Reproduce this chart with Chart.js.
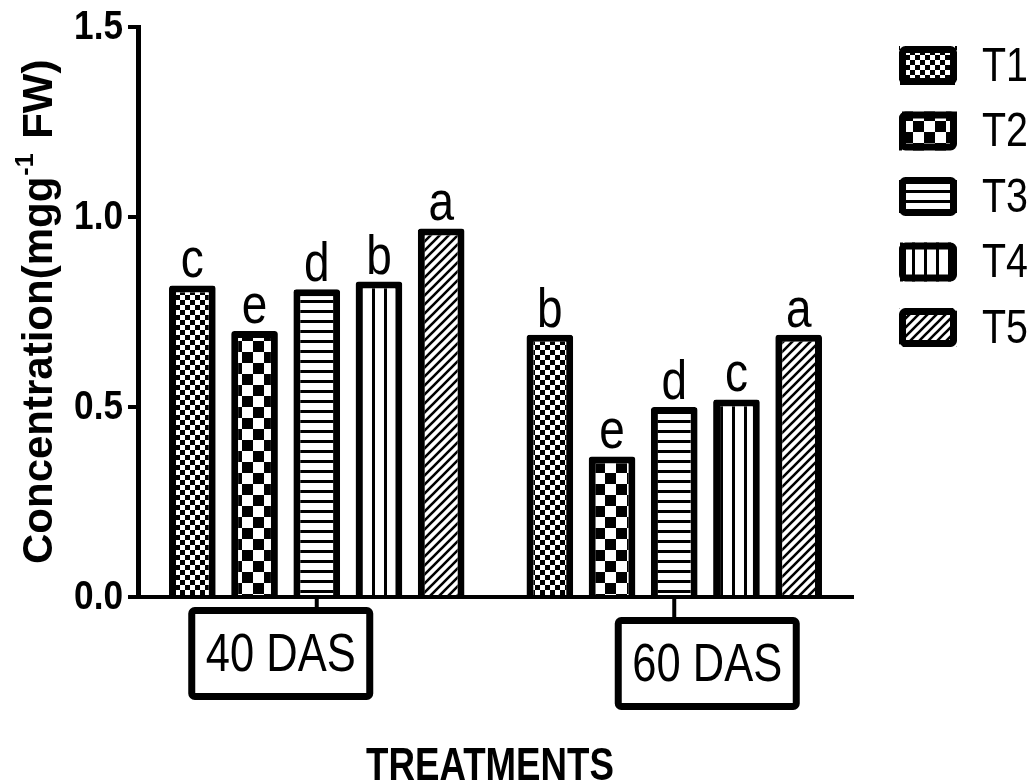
<!DOCTYPE html>
<html>
<head>
<meta charset="utf-8">
<title>Concentration by treatment</title>
<script src="https://cdn.jsdelivr.net/npm/chart.js@4.4.1/dist/chart.umd.min.js"></script>
<style>
  html, body { margin: 0; padding: 0; background: #fff; }
  #wrap { width: 1030px; height: 784px; }
</style>
</head>
<body>
<div id="wrap"><canvas id="chart" width="1030" height="784"></canvas></div>
<script>
// data
const categories = ["40 DAS", "60 DAS"];
const treatments = ["T1", "T2", "T3", "T4", "T5"];
const t1Values = [0.82, 0.69];
const t2Values = [0.70, 0.37];
const t3Values = [0.81, 0.50];
const t4Values = [0.83, 0.52];
const t5Values = [0.97, 0.69];
const t1Letters = ["c", "b"];
const t2Letters = ["e", "e"];
const t3Letters = ["d", "d"];
const t4Letters = ["b", "c"];
const t5Letters = ["a", "a"];
const yTicks = [0, 0.5, 1.0, 1.5];

const FONT = "'Liberation Sans', Arial, sans-serif";
const SQUEEZE = 0.82; // no narrow face installed, so squeeze the normal one

function narrowText(ctx, text, x, y, font, align, baseline, squeeze) {
  ctx.save();
  ctx.translate(x, y);
  ctx.scale(squeeze || SQUEEZE, 1);
  ctx.font = font;
  ctx.textAlign = align;
  ctx.textBaseline = baseline;
  ctx.fillStyle = "#000";
  ctx.fillText(text, 0, 0);
  ctx.restore();
}

// fill patterns, one per treatment
function makePattern(kind) {
  const c = document.createElement("canvas");
  const g = c.getContext("2d");
  const sq = (n) => {
    c.width = c.height = 2 * n;
    g.fillStyle = "#fff"; g.fillRect(0, 0, 2 * n, 2 * n);
    g.fillStyle = "#000"; g.fillRect(0, 0, n, n); g.fillRect(n, n, n, n);
  };
  if (kind === "fineCheck") sq(5);
  else if (kind === "bigCheck") sq(11);
  else if (kind === "hlines") {
    c.width = 4; c.height = 10;
    g.fillStyle = "#fff"; g.fillRect(0, 0, 4, 10);
    g.fillStyle = "#000"; g.fillRect(0, 0, 4, 3);
  } else if (kind === "vlines") {
    c.width = 12; c.height = 4;
    g.fillStyle = "#fff"; g.fillRect(0, 0, 12, 4);
    g.fillStyle = "#000"; g.fillRect(0, 0, 3, 4);
  } else if (kind === "diag") {
    c.width = c.height = 9;
    g.fillStyle = "#fff"; g.fillRect(0, 0, 9, 9);
    g.strokeStyle = "#000"; g.lineWidth = 2.6;
    g.beginPath();
    g.moveTo(-1, 10); g.lineTo(10, -1);
    g.moveTo(-1, 1); g.lineTo(1, -1);
    g.moveTo(8, 10); g.lineTo(10, 8);
    g.stroke();
  }
  return g.createPattern(c, "repeat");
}

const patterns = ["fineCheck", "bigCheck", "hlines", "vlines", "diag"].map(makePattern);
const seriesValues = [t1Values, t2Values, t3Values, t4Values, t5Values];
const seriesLetters = [t1Letters, t2Letters, t3Letters, t4Letters, t5Letters];

const datasets = treatments.map((name, i) => ({
  label: name,
  data: seriesValues[i],
  letters: seriesLetters[i],
  backgroundColor: patterns[i],
  borderColor: "#000",
  borderWidth: 7,
  borderRadius: 3,
  categoryPercentage: 0.87,
  barPercentage: 0.75,
}));

// letters above every bar
const letterPlugin = {
  id: "letters",
  afterDatasetsDraw(chart) {
    const ctx = chart.ctx;
    chart.data.datasets.forEach((ds, i) => {
      chart.getDatasetMeta(i).data.forEach((bar, j) => {
        narrowText(ctx, ds.letters[j], bar.x, bar.y - 8, "56px " + FONT, "center", "alphabetic");
      });
    });
  },
};

// tick labels, boxed category labels, axis titles and the legend
const decorPlugin = {
  id: "decor",
  afterDraw(chart) {
    const ctx = chart.ctx;
    const xs = chart.scales.x;
    const ys = chart.scales.y;
    const area = chart.chartArea;
    ctx.save();

    // y tick labels
    yTicks.forEach((v) => {
      narrowText(ctx, v.toFixed(1), 123, ys.getPixelForValue(v) + 1, "bold 40px " + FONT, "right", "middle", 0.88);
    });

    // category labels in frames
    const shift = [-36, 33];
    const drop = [10, 20];
    categories.forEach((label, i) => {
      const tx = xs.getPixelForValue(i);
      const cx = tx + shift[i];
      const top = area.bottom + drop[i];
      const w = 185, h = 93;
      ctx.strokeStyle = "#000";
      ctx.lineWidth = 4;
      ctx.beginPath();
      ctx.moveTo(tx, area.bottom);
      ctx.lineTo(tx, top);
      ctx.stroke();
      ctx.lineWidth = 7;
      ctx.beginPath();
      ctx.roundRect(cx - w / 2 + 3.5, top + 3.5, w - 7, h - 7, 3);
      ctx.stroke();
      narrowText(ctx, label, cx, top + h / 2 + 3, "53px " + FONT, "center", "middle");
    });

    // x title
    narrowText(ctx, "TREATMENTS", 490, 780, "bold 47px " + FONT, "center", "alphabetic", 0.78);

    // y title with superscript
    ctx.save();
    ctx.translate(52, 564);
    ctx.rotate(-Math.PI / 2);
    ctx.fillStyle = "#000";
    ctx.textAlign = "left";
    ctx.textBaseline = "alphabetic";
    let x = 0;
    const main = "bold 42px " + FONT;
    const sup = "bold 25px " + FONT;
    ctx.font = main;
    ctx.fillText("Concentration(mgg", x, 0);
    x += ctx.measureText("Concentration(mgg").width;
    ctx.font = sup;
    ctx.fillText("-1", x + 1, -19);
    x += ctx.measureText("-1").width + 4;
    ctx.font = main;
    ctx.fillText(" FW)", x, 0);
    ctx.restore();

    // legend
    chart.data.datasets.forEach((ds, i) => {
      const bx = 899, by = 46 + 65.5 * i, bw = 58, bh = 39;
      ctx.fillStyle = ds.backgroundColor;
      ctx.fillRect(bx, by, bw, bh);
      ctx.strokeStyle = "#000";
      ctx.lineWidth = 7;
      ctx.beginPath();
      ctx.roundRect(bx + 3.5, by + 3.5, bw - 7, bh - 7, 3);
      ctx.stroke();
      narrowText(ctx, ds.label, 982, by + bh / 2 + 2, "48px " + FONT, "left", "middle");
    });

    ctx.restore();
  },
};

new Chart(document.getElementById("chart"), {
  type: "bar",
  data: { labels: categories, datasets: datasets },
  plugins: [letterPlugin, decorPlugin],
  options: {
    responsive: false,
    animation: false,
    devicePixelRatio: 1,
    layout: { padding: { top: 27, right: 177, left: 0, bottom: 0 } },
    plugins: { legend: { display: false }, tooltip: { enabled: false } },
    scales: {
      x: {
        offset: true,
        grid: { display: false },
        border: { display: true, color: "#000", width: 4 },
        ticks: { display: false },
        afterFit(scale) { scale.height = 187; },
      },
      y: {
        min: 0,
        max: 1.5,
        afterBuildTicks(scale) { scale.ticks = yTicks.map((v) => ({ value: v })); },
        ticks: { display: false },
        grid: { drawOnChartArea: false, color: "#000", lineWidth: 4, tickLength: 10 },
        border: { display: true, color: "#000", width: 5 },
        afterFit(scale) { scale.width = 138; },
      },
    },
  },
});
</script>
</body>
</html>
